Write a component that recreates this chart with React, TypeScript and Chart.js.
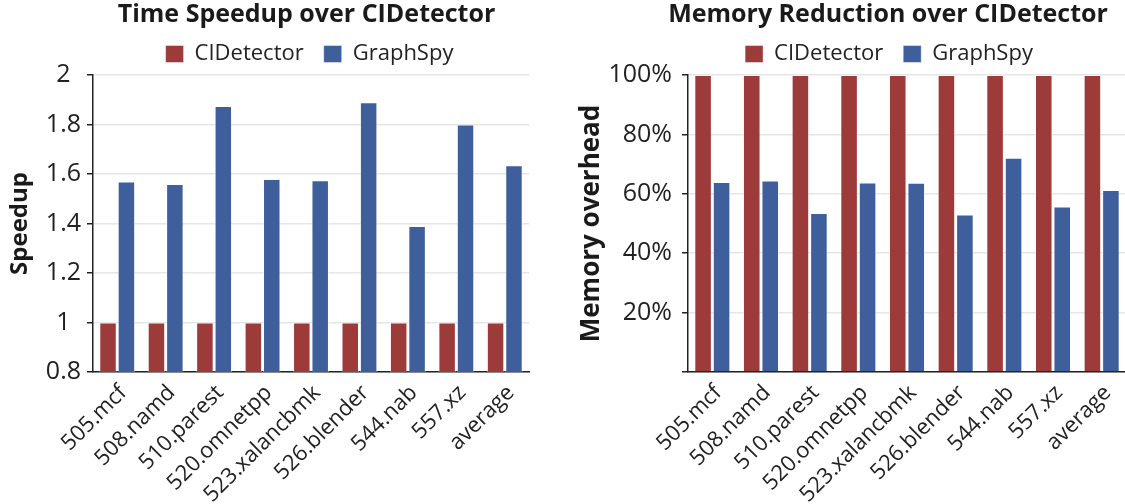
import React, { useEffect, useRef } from 'react';
import { Chart, registerables } from 'chart.js';

Chart.register(...registerables);

const categories = ['505.mcf', '508.namd', '510.parest', '520.omnetpp', '523.xalancbmk', '526.blender', '544.nab', '557.xz', 'average'];
const seriesNames = ['CIDetector', 'GraphSpy'];
const speedupCIDetector = [1, 1, 1, 1, 1, 1, 1, 1, 1];
const speedupGraphSpy = [1.57, 1.56, 1.875, 1.58, 1.575, 1.89, 1.39, 1.80, 1.635];
const memoryCIDetector = [100, 100, 100, 100, 100, 100, 100, 100, 100];
const memoryGraphSpy = [64.0, 64.5, 53.5, 63.8, 63.7, 53.0, 72.1, 55.7, 61.3];
const speedupTicks = [0.8, 1, 1.2, 1.4, 1.6, 1.8, 2];
const memoryTicks = [0, 20, 40, 60, 80, 100];

const RED = '#9d3a3a';
const BLUE = '#3e5f9b';
const FONT = "'Open Sans', 'Noto Sans', sans-serif";
const H = 504;

const shiftPlugin = {
  id: 'shiftHeader',
  afterLayout(chart: any, _args: any, opts: any) {
    const t = chart.titleBlock;
    if (t && opts.title) { t.left += opts.title; t.right += opts.title; }
    const l = chart.legend;
    if (l && opts.legend) { l.left += opts.legend; l.right += opts.legend; }
  },
};

function makeConfig(p: {
  title: string; yTitle: string; a: number[]; b: number[]; ticks: number[];
  min: number; max: number; fmt: (v: number) => string; yWidth: number; padRight: number;
  crossAlign: 'near' | 'center'; titleShift: number; legendShift: number; yTitlePad: number;
  yTitleSize: number; tickPad: number;
}): any {
  return {
    type: 'bar',
    data: {
      labels: categories,
      datasets: [
        { label: seriesNames[0], data: p.a, backgroundColor: RED, borderColor: 'rgba(255,255,255,0.45)', borderWidth: 1 },
        { label: seriesNames[1], data: p.b, backgroundColor: BLUE, borderColor: 'rgba(255,255,255,0.45)', borderWidth: 1 },
      ],
    },
    plugins: [shiftPlugin],
    options: {
      responsive: false,
      animation: false,
      devicePixelRatio: 1,
      layout: { padding: { left: 0, right: p.padRight, top: 0, bottom: 0 } },
      datasets: { bar: { categoryPercentage: 0.76, barPercentage: 0.95 } },
      plugins: {
        shiftHeader: { title: p.titleShift, legend: p.legendShift },
        tooltip: { enabled: false },
        title: {
          display: true, text: p.title, color: '#1a1a1a',
          font: { family: FONT, size: 25, weight: 'bold', lineHeight: 0.64 },
          padding: { top: 7, bottom: 0 },
        },
        legend: {
          display: true,
          labels: {
            color: '#222', font: { family: FONT, size: 22 },
            boxWidth: 18, boxHeight: 17, padding: 20,
          },
        },
      },
      scales: {
        x: {
          grid: { display: false },
          border: { display: true, color: '#222', width: 1.5 },
          ticks: { color: '#222', font: { family: FONT, size: 22 }, maxRotation: 45, minRotation: 45, autoSkip: false, padding: 0, labelOffset: 6 },
          afterFit: (s: any) => { s.height = H - 372; },
        },
        y: {
          min: p.min, max: p.max,
          afterBuildTicks: (s: any) => { s.ticks = p.ticks.map((v) => ({ value: v })); },
          grid: { color: '#e6e6e6', lineWidth: 1.5, drawTicks: true, tickLength: 6, tickColor: '#222' },
          border: { display: true, color: '#222', width: 1.5 },
          ticks: {
            color: '#222', font: { family: FONT, size: 25 }, padding: p.tickPad, crossAlign: p.crossAlign,
            callback: (v: any) => p.fmt(Number(v)),
          },
          title: {
            display: true, text: p.yTitle, color: '#1a1a1a',
            font: { family: FONT, size: p.yTitleSize, weight: 'bold' },
            padding: { top: p.yTitlePad, bottom: 0 },
          },
          afterFit: (s: any) => { s.width = p.yWidth; },
        },
      },
    },
  };
}

function ChartBox({ left, width, config }: { left: number; width: number; config: any }) {
  const ref = useRef<HTMLCanvasElement | null>(null);
  useEffect(() => {
    if (!ref.current) return;
    const chart = new Chart(ref.current, config);
    return () => chart.destroy();
  }, []);
  return (
    <div style={{ position: 'absolute', left, top: 0, width, height: H }}>
      <canvas ref={ref} width={width} height={H} style={{ width, height: H, display: 'block' }} />
    </div>
  );
}

export default function App() {
  const leftCfg = makeConfig({
    title: 'Time Speedup over CIDetector', yTitle: 'Speedup',
    a: speedupCIDetector, b: speedupGraphSpy, ticks: speedupTicks, min: 0.8, max: 2,
    fmt: (v) => String(Math.round(v * 10) / 10), yWidth: 93, padRight: 620 - 529,
    crossAlign: 'center', titleShift: 42, legendShift: 45, yTitlePad: 6,
    yTitleSize: 24, tickPad: 6,
  });
  const rightCfg = makeConfig({
    title: 'Memory Reduction over CIDetector', yTitle: 'Memory overhead',
    a: memoryCIDetector, b: memoryGraphSpy, ticks: memoryTicks, min: 0, max: 100,
    fmt: (v) => (v === 0 ? '' : v + '%'), yWidth: 118, padRight: 4,
    crossAlign: 'near', titleShift: 40, legendShift: 41, yTitlePad: 6,
    yTitleSize: 26, tickPad: 10,
  });
  return (
    <div style={{ position: 'absolute', left: 0, top: 0, width: 1125, height: H, overflow: 'hidden', background: '#fff' }}>
      <ChartBox left={0} width={620} config={leftCfg} />
      <ChartBox left={570} width={560} config={rightCfg} />
    </div>
  );
}
